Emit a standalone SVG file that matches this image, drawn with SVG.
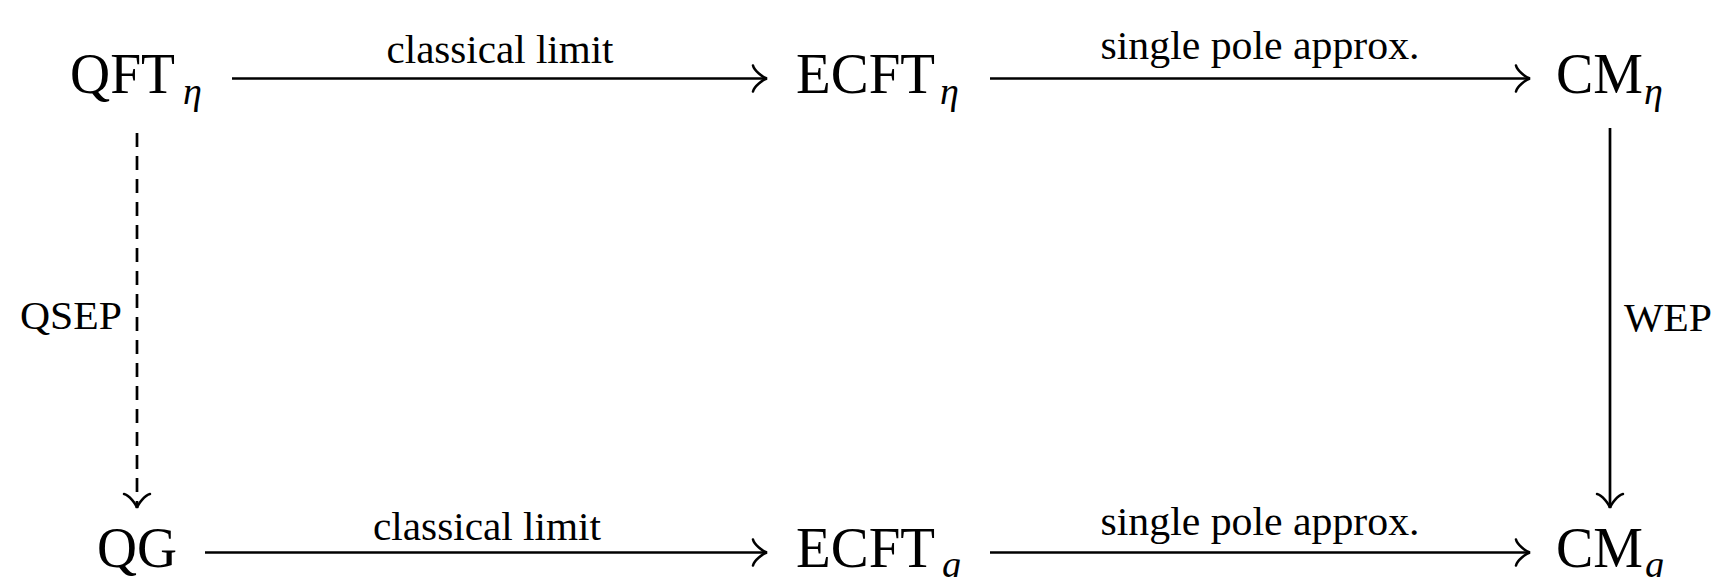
<svg xmlns="http://www.w3.org/2000/svg" width="1712" height="577" viewBox="0 0 1712 577">
<style>
  .node { font-family: "Liberation Serif", "Times New Roman", serif; font-size: 58px; fill: #000; }
  .sub { font-family: "Liberation Serif", "Times New Roman", serif; font-size: 38px; font-style: italic; fill: #000; }
  .lbl { font-family: "Liberation Serif", "Times New Roman", serif; font-size: 39px; fill: #000; }
  .edge { stroke: #000; stroke-width: 2.7; fill: none; marker-end: url(#to); }
  .dashed { stroke-dasharray: 14 9; }
</style>
<defs>
  <marker id="to" markerUnits="userSpaceOnUse" markerWidth="40" markerHeight="40" viewBox="-20 -20 40 40" refX="0" refY="0" orient="auto" overflow="visible">
    <path d="M -14 -13 C -13 -8 -4 -1 0 0 C -4 1 -13 8 -14 13" fill="none" stroke="#000" stroke-width="2.5" stroke-linecap="round" stroke-dasharray="none"/>
  </marker>
</defs>
<rect width="1712" height="577" fill="#fff"/>
<g id="connectors">
  <line class="edge" x1="232" y1="78.5" x2="767" y2="78.5"/>
  <line class="edge" x1="990" y1="78.5" x2="1530" y2="78.5"/>
  <line class="edge" x1="205" y1="552.5" x2="767" y2="552.5"/>
  <line class="edge" x1="990" y1="552.5" x2="1530" y2="552.5"/>
  <line class="edge dashed" x1="137" y1="133" x2="137" y2="508"/>
  <line class="edge" x1="1610" y1="128" x2="1610" y2="508"/>
  <text class="lbl" x="500" y="63" text-anchor="middle" textLength="227" lengthAdjust="spacingAndGlyphs">classical limit</text>
  <text class="lbl" x="1260" y="59" text-anchor="middle" textLength="319" lengthAdjust="spacingAndGlyphs">single pole approx.</text>
  <text class="lbl" x="487" y="540" text-anchor="middle" textLength="228" lengthAdjust="spacingAndGlyphs">classical limit</text>
  <text class="lbl" x="1260" y="535" text-anchor="middle" textLength="319" lengthAdjust="spacingAndGlyphs">single pole approx.</text>
  <text class="lbl" x="20" y="329" textLength="102" lengthAdjust="spacingAndGlyphs">QSEP</text>
  <text class="lbl" x="1624" y="331" textLength="88" lengthAdjust="spacingAndGlyphs">WEP</text>
</g>
<g id="qft">
  <text class="node" x="70" y="93" textLength="105" lengthAdjust="spacingAndGlyphs">QFT</text>
  <text class="sub" x="183" y="104">η</text>
</g>
<g id="ecft-eta">
  <text class="node" x="796" y="93" textLength="139" lengthAdjust="spacingAndGlyphs">ECFT</text>
  <text class="sub" x="940" y="104">η</text>
</g>
<g id="cm-eta">
  <text class="node" x="1556" y="93" textLength="87" lengthAdjust="spacingAndGlyphs">CM</text>
  <text class="sub" x="1644" y="104">η</text>
</g>
<g id="qg">
  <text class="node" x="97" y="567" textLength="80" lengthAdjust="spacingAndGlyphs">QG</text>
</g>
<g id="ecft-g">
  <text class="node" x="796" y="567" textLength="139" lengthAdjust="spacingAndGlyphs">ECFT</text>
  <text class="sub" x="942" y="577">g</text>
</g>
<g id="cm-g">
  <text class="node" x="1556" y="567" textLength="87" lengthAdjust="spacingAndGlyphs">CM</text>
  <text class="sub" x="1645" y="577">g</text>
</g>
</svg>
